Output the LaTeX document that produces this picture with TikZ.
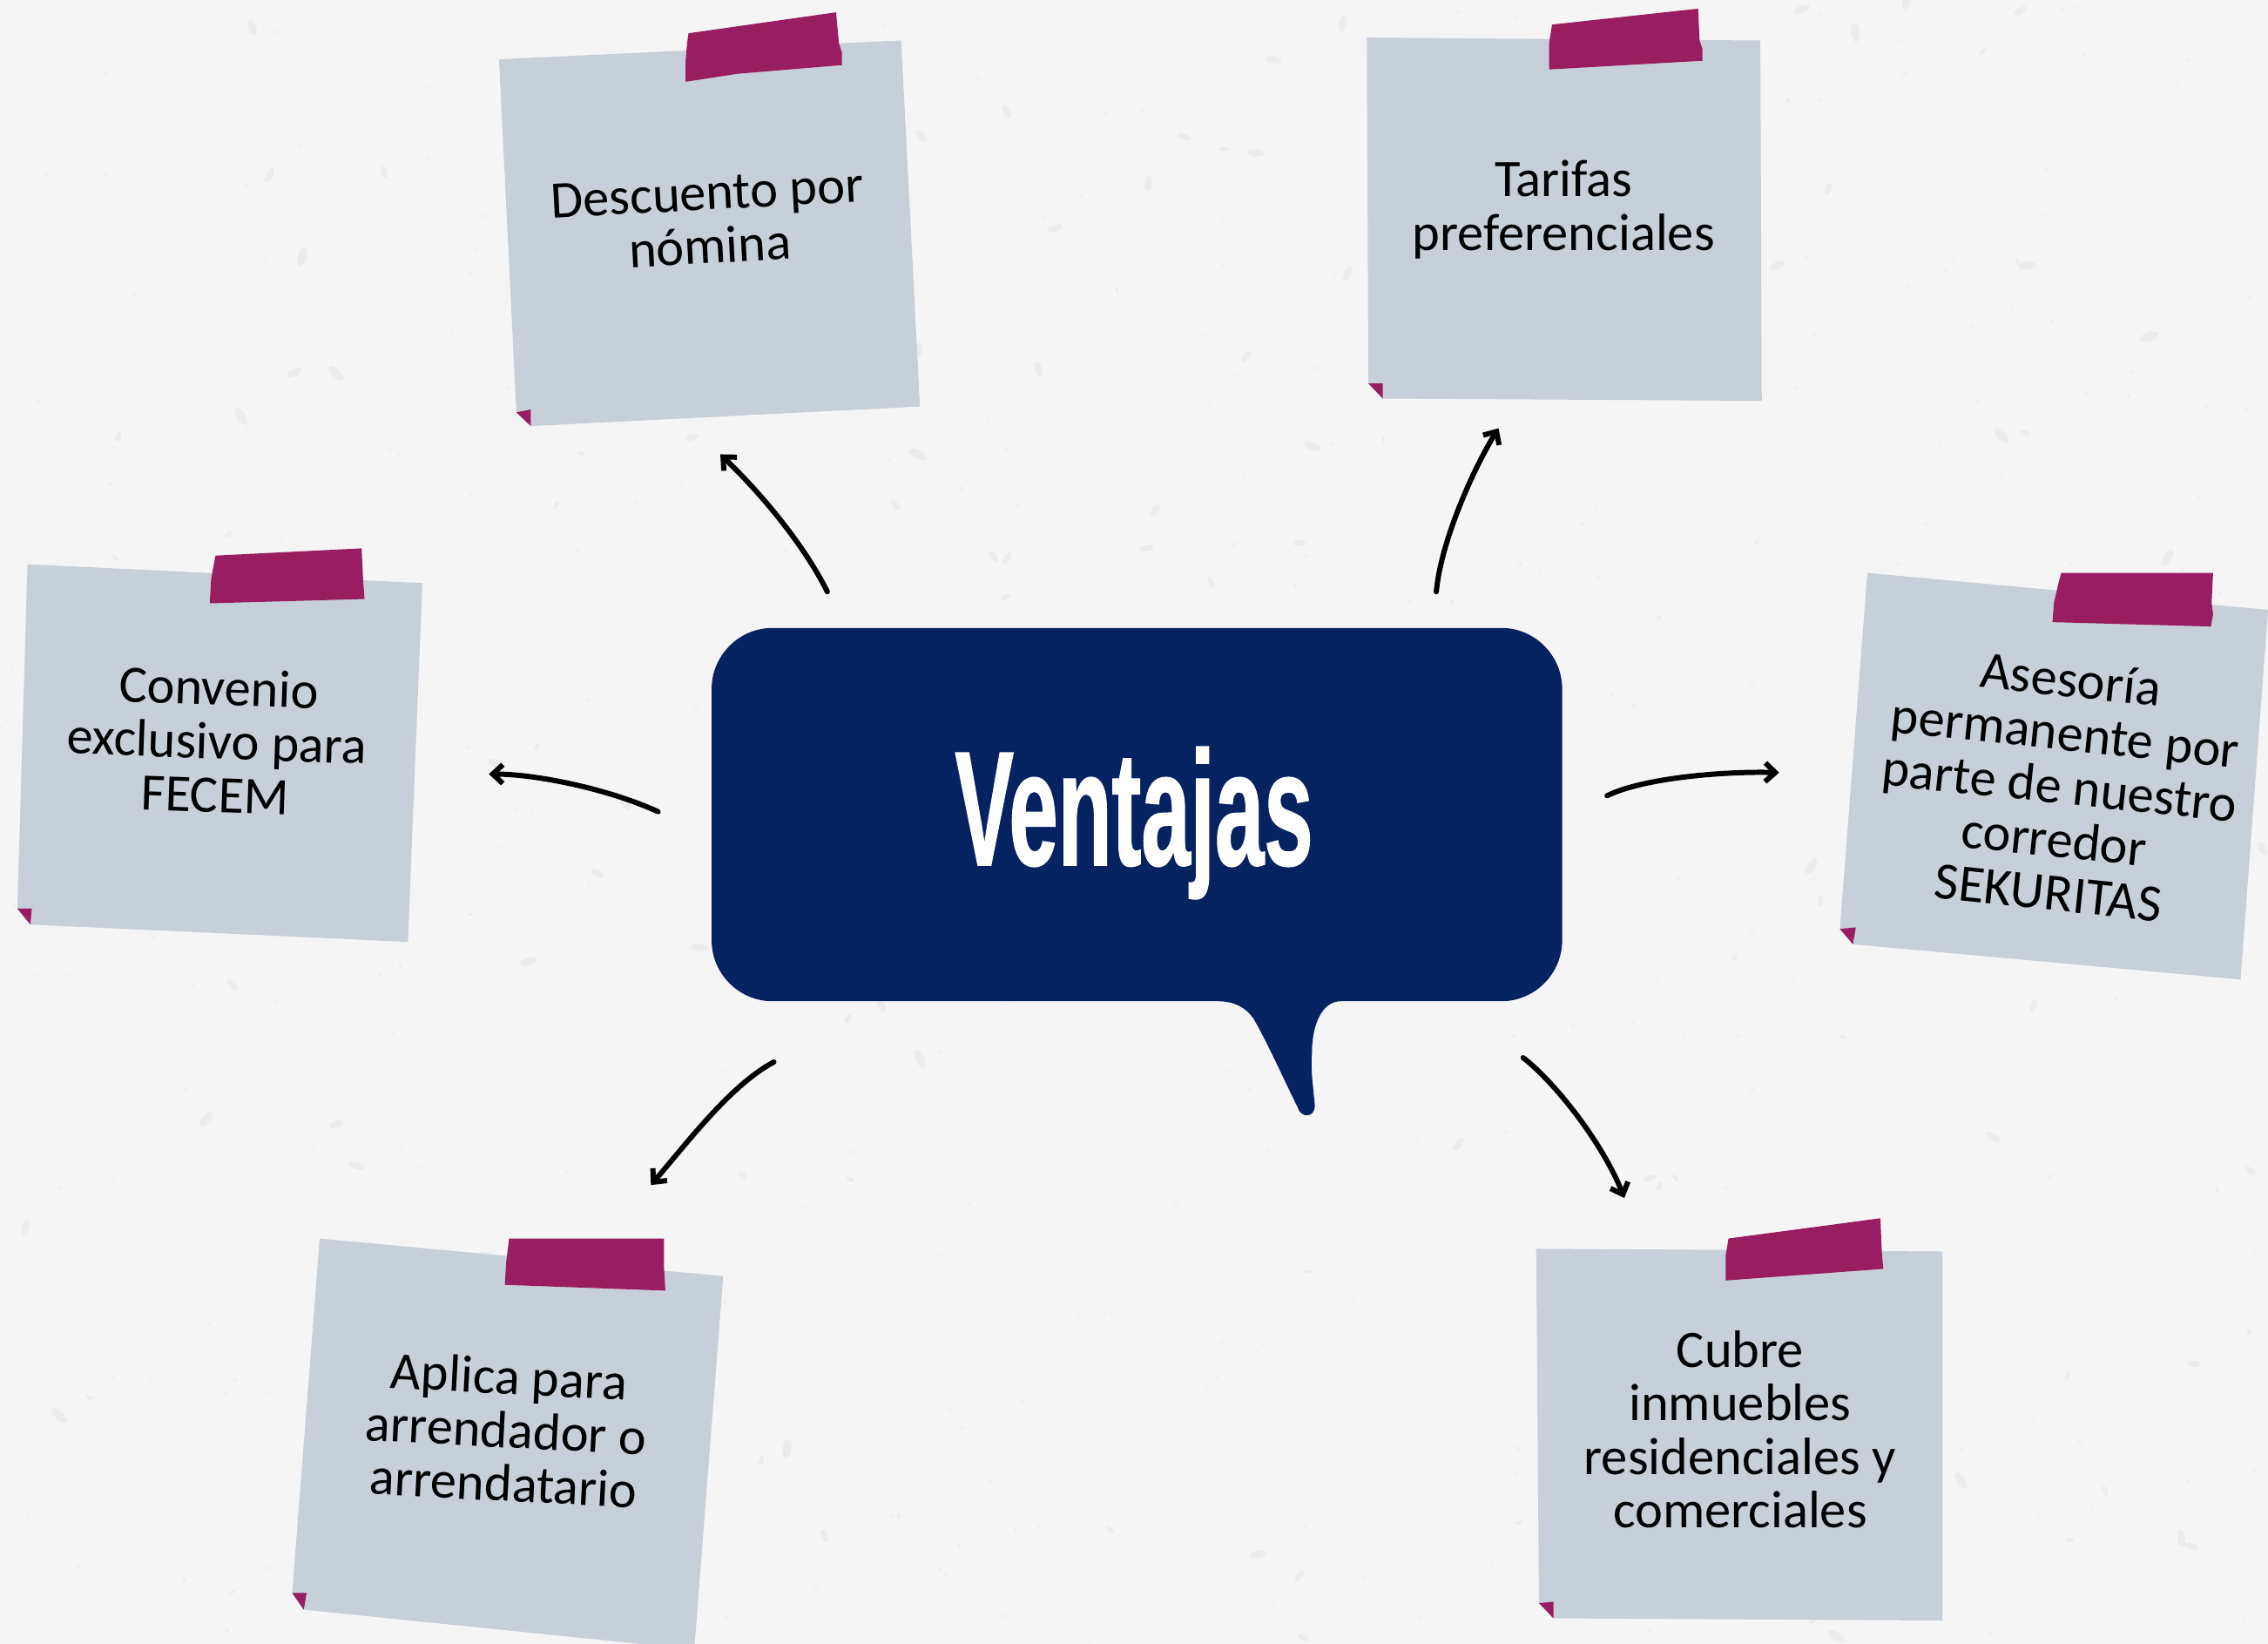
\documentclass[tikz,border=0pt]{standalone}
\usepackage{fontspec}
\usetikzlibrary{arrows.meta}
\setmainfont{Carlito}
\newfontfamily\titlefont[FakeStretch=0.54,FakeBold=0.7]{Liberation Sans Bold}
\definecolor{pagebg}{HTML}{F5F5F5}
\definecolor{speck}{HTML}{ECECEC}
\definecolor{speckfine}{HTML}{F0F0F0}
\definecolor{notecol}{HTML}{C7D0D8}
\definecolor{tapecol}{HTML}{981D61}
\definecolor{navy}{HTML}{052261}
\tikzset{
  notepaper/.style={fill=notecol,draw=none},
  tapestrip/.style={fill=tapecol,draw=none},
  notetext/.style={align=center,text=black,inner sep=0pt,font=\fontsize{36.4}{37}\selectfont},
  handarrow/.style={draw=black,line width=3.6pt,line cap=round,-{Straight Barb[length=7pt,width=13pt,line width=3.6pt]}}
}
\newcommand{\notesheet}[6]{\fill[notepaper] #1 -- #2 -- #3 -- #6 -- #4 -- cycle; \fill[tapestrip] #4 -- #5 -- #6 -- cycle;}
\begin{document}
\begin{tikzpicture}[x=1pt,y=-1pt]
\useasboundingbox (0,0) rectangle (1568,1136.25);
\clip (0,0) rectangle (1568,1136.25);
\fill[pagebg] (0,0) rectangle (1568,1136.25);
\pgfmathsetseed{4242}
\foreach \i in {1,...,700}{
  \pgfmathsetmacro{\px}{rnd*1568}
  \pgfmathsetmacro{\py}{rnd*1136}
  \pgfmathsetmacro{\pr}{0.5+rnd*1.2}
  \fill[speckfine] (\px,\py) circle [radius=\pr];
}
\foreach \i in {1,...,170}{
  \pgfmathsetmacro{\px}{rnd*1568}
  \pgfmathsetmacro{\py}{rnd*1136}
  \pgfmathsetmacro{\pr}{0.8+rnd*3}
  \pgfmathsetmacro{\pa}{rnd*180}
  \fill[speck,rotate around={\pa:(\px,\py)}] (\px,\py) ellipse [x radius=\pr*1.8,y radius=\pr*0.8];
}
% notes
\notesheet{(345,41)}{(623,28)}{(636,281)}{(357,285)}{(367,283)}{(367,294.5)}
\fill[tapestrip] (476,23) -- (578,8.5) -- (580,30) -- (582,36) -- (582,45) -- (510,51) -- (474,56.5) -- (474,42) -- (475,30) -- cycle;
\notesheet{(945,26)}{(1217,28)}{(1218,277)}{(946,265)}{(956,265)}{(956,275.5)}
\fill[tapestrip] (1073,17) -- (1174,6) -- (1175,28) -- (1177,34) -- (1177,42) -- (1071,48) -- (1071,30) -- cycle;
\notesheet{(1291,396)}{(1568,421.5)}{(1549,677)}{(1272,642)}{(1283,641)}{(1281,652.6)}
\fill[tapestrip] (1425,396) -- (1530,396) -- (1529,416.6) -- (1530,424.6) -- (1528.5,433) -- (1419,430) -- (1420,416.6) -- (1423,403.6) -- cycle;
\notesheet{(1062,863)}{(1343,865)}{(1343,1120)}{(1064,1108)}{(1074,1107)}{(1074,1118.5)}
\fill[tapestrip] (1195,856) -- (1300,842) -- (1301,865) -- (1302,877) -- (1193,885) -- (1193,868) -- cycle;
\notesheet{(221,856)}{(500,882)}{(480,1140)}{(202,1101)}{(212,1101)}{(210,1112.5)}
\fill[tapestrip] (352,856) -- (459,856) -- (459,875) -- (460,892) -- (349,888) -- (350,872) -- cycle;
\notesheet{(19,390)}{(292,403)}{(282,651)}{(12,628)}{(22,628)}{(21,639)}
\fill[tapestrip] (149,384) -- (250,379) -- (251,400) -- (252,414) -- (145,417) -- (146,400) -- cycle;
% note texts
\node[notetext,rotate=3] (descuento) at (490,152) {Descuento por\\nómina};
\node[notetext] (tarifas) at (1081,145) {Tarifas\\preferenciales};
\node[notetext,rotate=-6] (asesoria) at (1424,543) {Asesoría\\permanente por\\parte de nuestro\\corredor\\SEKURITAS};
\node[notetext] (cubre) at (1203,988) {Cubre\\inmuebles\\residenciales y\\comerciales};
\node[notetext,rotate=-3] (aplica) at (350,988) {Aplica para\\arrendador o\\arrendatario};
\node[notetext,rotate=-2] (convenio) at (150,512) {Convenio\\exclusivo para\\FECEM};
% bubble
\fill[navy] (534,434) -- (1038,434) .. controls (1061,434) and (1080,453) .. (1080,476)
  -- (1080,650) .. controls (1080,673) and (1061,692) .. (1038,692)
  -- (927,692) .. controls (914,692) and (907,708) .. (907,728)
  .. controls (906,740) and (908,752) .. (909,764)
  .. controls (909,773) and (899,773) .. (897,765)
  .. controls (887,745) and (877,722) .. (866.6,704)
  .. controls (861,696) and (853,692) .. (842,692)
  -- (534,692) .. controls (511,692) and (492,673) .. (492,650)
  -- (492,476) .. controls (492,453) and (511,434) .. (534,434) -- cycle;
\node[inner sep=0pt,text=white,anchor=base,font=\titlefont\fontsize{113}{113}\selectfont] (ventajas) at (784,598) {Ventajas};
% connectors
\coordinate (s1) at (572,409); \coordinate (e1) at (498,314);
\coordinate (s2) at (993,409); \coordinate (e2) at (1036,296);
\coordinate (s3) at (1111,550); \coordinate (e3) at (1230,534);
\coordinate (s4) at (1053,731); \coordinate (e4) at (1123,828);
\coordinate (s5) at (535,734); \coordinate (e5) at (450,819);
\coordinate (s6) at (455,561); \coordinate (e6) at (338,535);
\draw[handarrow] (s1) .. controls (555,375) and (525,340) .. (e1);
\draw[handarrow] (s2) .. controls (996,375) and (1018,325) .. (e2);
\draw[handarrow] (s3) .. controls (1135,538) and (1190,533) .. (e3);
\draw[handarrow] (s4) .. controls (1075,748) and (1108,790) .. (e4);
\draw[handarrow] (s5) .. controls (505,750) and (475,790) .. (e5);
\draw[handarrow] (s6) .. controls (420,545) and (370,535) .. (e6);
\end{tikzpicture}
\end{document}
